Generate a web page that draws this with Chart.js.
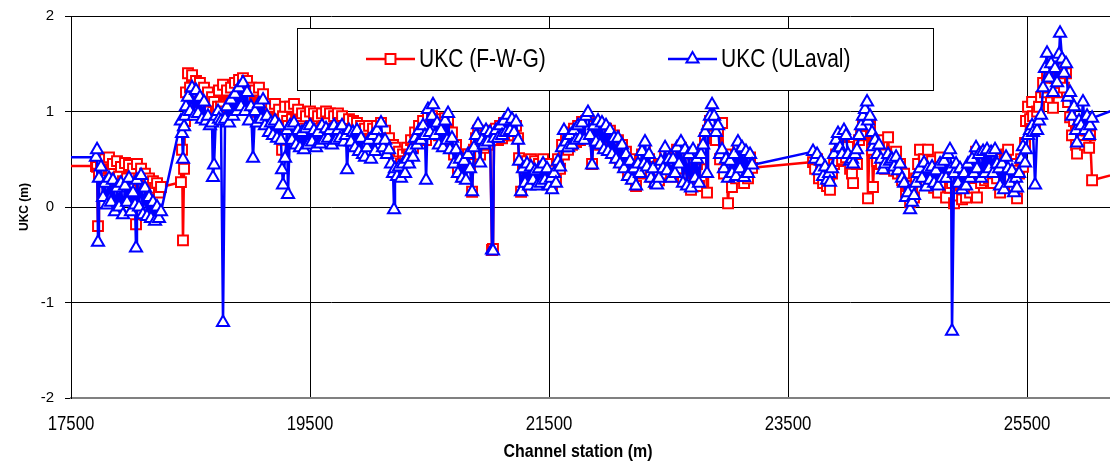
<!DOCTYPE html>
<html>
<head>
<meta charset="utf-8">
<title>UKC along the channel</title>
<script src="https://cdn.jsdelivr.net/npm/chart.js@4.4.1/dist/chart.umd.min.js"></script>
<style>
    html, body { margin: 0; padding: 0; background: #fff; }
    #ukc-chart { display: block; }
</style>
</head>
<body>
<canvas id="ukc-chart" width="1110" height="464"></canvas>
<script>
'use strict';

// Channel stations (m), one row per surveyed reach
var stations = [
    17200, 17709,
    17718, 17726, 17734, 17751, 17768, 17785, 17801, 17818, 17835, 17851, 17868, 17885, 17902, 17918, 17935, 17952, 17969, 17985, 18002, 18019, 18036, 18044, 18052, 18069, 18086, 18102, 18119, 18136, 18153, 18169, 18186, 18203, 18220, 18236, 18253,
    18420, 18429, 18437, 18446, 18454, 18462, 18479, 18496, 18513, 18529, 18546, 18563, 18579, 18596, 18613, 18630, 18646, 18663, 18680,
    18688, 18697, 18713, 18730, 18738, 18755, 18772, 18789, 18805, 18822, 18839, 18856, 18872, 18889, 18906, 18923, 18939, 18956, 18973, 18990,
    19006, 19023, 19040, 19056, 19073, 19090, 19107, 19123, 19140, 19157, 19174, 19190, 19207, 19224, 19241, 19257, 19266, 19274, 19291, 19308, 19316, 19333, 19349, 19366,
    19383, 19400, 19416, 19433, 19450, 19466, 19483, 19500, 19517, 19533, 19550, 19567, 19584, 19600, 19617, 19634, 19651, 19667, 19684, 19701, 19718, 19734, 19751, 19768, 19784, 19801,
    19810, 19826, 19843, 19860, 19877, 19893, 19910, 19927, 19943, 19960, 19977, 19994, 20010, 20027, 20044, 20061, 20077, 20094, 20111, 20128, 20144, 20161, 20178, 20195, 20203,
    20211, 20228, 20245, 20261, 20278, 20295, 20312, 20328, 20345, 20362, 20379, 20395, 20412,
    20429, 20446, 20462, 20471, 20487, 20504, 20521, 20529, 20546, 20563, 20579, 20596, 20613, 20630, 20646, 20655, 20671, 20688,
    20705, 20722, 20738, 20755, 20772, 20789, 20805, 20822, 20839, 20856, 20872, 20889, 20906, 20923, 20939, 20956, 20973, 20989, 21006, 21023, 21031,
    21040, 21056, 21073, 21090, 21107, 21123, 21140, 21157, 21174, 21190, 21207, 21224, 21241, 21249,
    21266, 21282, 21299, 21316, 21333, 21349, 21366, 21383, 21400, 21416, 21433, 21450, 21466, 21483, 21500,
    21517, 21525, 21542, 21558, 21575, 21592, 21609, 21625, 21642, 21659, 21676, 21692, 21709, 21726, 21743, 21759, 21776, 21793, 21810, 21826, 21843,
    21860, 21876, 21893, 21910, 21927, 21943, 21960, 21977, 21994, 22010, 22027, 22044, 22061, 22077, 22094, 22111, 22128, 22144, 22161, 22178, 22194, 22211, 22228, 22245, 22261, 22278, 22295, 22303,
    22320, 22337, 22353, 22370, 22387, 22404, 22420, 22437, 22454, 22471, 22487, 22504, 22521, 22538, 22554, 22571, 22588, 22604, 22621,
    22638, 22655, 22671, 22688, 22705, 22722, 22738, 22755, 22772, 22789, 22805, 22822, 22830,
    22847, 22864, 22881, 22897, 22914, 22931, 22948, 22964, 22981, 22998, 23015, 23031, 23048, 23065, 23081, 23098, 23115, 23132, 23148, 23165, 23182, 23199,
    23709, 23726, 23743, 23759, 23776, 23793, 23810, 23826, 23843, 23851,
    23868, 23885, 23902, 23918, 23935, 23952, 23968, 23985, 24002, 24019, 24035, 24044,
    24061, 24077, 24094, 24111, 24127, 24144, 24161, 24169, 24186, 24203, 24211,
    24228, 24245, 24261, 24278, 24295, 24312, 24337, 24353, 24370, 24387, 24404, 24420, 24437, 24454, 24471, 24487, 24504, 24521, 24538, 24554, 24571, 24588, 24604, 24621, 24638, 24655, 24671, 24688, 24705, 24722, 24738, 24755,
    24772, 24789, 24805, 24822, 24839, 24855, 24864, 24872, 24889, 24906, 24922, 24939, 24956, 24973, 24989, 25006, 25023, 25040, 25056, 25073,
    25081, 25098, 25115, 25132, 25148, 25165, 25182, 25199, 25215, 25232, 25249, 25266, 25274, 25291, 25307, 25324, 25341, 25358, 25374, 25391, 25408, 25416,
    25433, 25450, 25466, 25483, 25491, 25508, 25525, 25542, 25550, 25567, 25584, 25600, 25617,
    25634, 25650, 25667, 25684, 25701, 25717, 25734, 25751, 25768, 25776, 25793, 25809, 25826, 25843, 25860, 25876, 25893, 25910, 25918,
    25935, 25952, 25968, 25985, 26002, 26019, 26027, 26044, 26400
];

// Under-keel clearance (m), F-W-G method
var ukcFwg = [
    0.43, 0.43,
    0.42, -0.20, 0.35, 0.45, 0.30, 0.50, 0.28, 0.52, 0.35, 0.45, 0.30, 0.48, 0.32, 0.42, 0.27, 0.46, 0.30, 0.44, 0.25, 0.40, 0.30, -0.18, 0.45, 0.28, 0.40, 0.25, 0.35, 0.22, 0.30, 0.18, 0.27, 0.20, 0.25, 0.15, 0.21,
    0.26, 0.60, -0.35, 0.40, 0.90, 1.20, 1.40, 1.25, 1.38, 1.15, 1.32, 1.10, 1.30, 1.12, 1.25, 1.05, 1.20, 1.00, 1.15,
    0.90, 1.10, 1.00, 1.05, 1.22, 1.05, 1.28, 1.00, 1.22, 1.02, 1.25, 1.05, 1.30, 1.10, 1.33, 1.12, 1.35, 1.15, 1.32, 1.05,
    1.25, 1.00, 1.22, 1.00, 1.25, 1.02, 1.18, 1.00, 1.08, 0.92, 1.05, 0.90, 1.08, 0.92, 1.02, 0.88, 0.60, 0.95, 1.05, 0.90, 0.85, 1.05, 0.92, 1.08,
    0.90, 1.02, 0.85, 0.98, 0.82, 0.95, 0.80, 1.00, 0.85, 0.98, 0.82, 0.95, 0.80, 0.98, 0.85, 1.00, 0.88, 0.98, 0.82, 0.95, 0.85, 0.98, 0.88, 0.95, 0.85, 0.80,
    0.75, 0.92, 0.80, 0.90, 0.75, 0.88, 0.72, 0.85, 0.70, 0.82, 0.68, 0.85, 0.70, 0.82, 0.72, 0.85, 0.75, 0.88, 0.72, 0.80, 0.65, 0.72, 0.58, 0.65, 0.55,
    0.62, 0.50, 0.58, 0.45, 0.55, 0.48, 0.62, 0.55, 0.70, 0.62, 0.78, 0.70, 0.85,
    0.75, 0.90, 0.80, 0.70, 0.95, 0.82, 0.95, 0.88, 0.80, 0.92, 0.75, 0.88, 0.72, 0.93, 0.78, 0.90, 0.70, 0.78,
    0.55, 0.65, 0.40, 0.55, 0.32, 0.50, 0.35, 0.55, 0.45, 0.16, 0.60, 0.72, 0.80, 0.55, 0.75, 0.62, 0.78, 0.65, 0.80, -0.45, -0.44,
    0.75, 0.82, 0.70, 0.85, 0.72, 0.88, 0.75, 0.90, 0.78, 0.88, 0.75, 0.85, 0.72, 0.51,
    0.16, 0.45, 0.30, 0.48, 0.28, 0.50, 0.32, 0.48, 0.30, 0.45, 0.28, 0.50, 0.30, 0.45, 0.25,
    0.35, 0.20, 0.38, 0.28, 0.50, 0.40, 0.65, 0.55, 0.72, 0.60, 0.78, 0.65, 0.82, 0.68, 0.85, 0.70, 0.89, 0.72, 0.90, 0.78, 0.80,
    0.45, 0.85, 0.70, 0.88, 0.65, 0.85, 0.62, 0.82, 0.60, 0.80, 0.58, 0.75, 0.52, 0.70, 0.48, 0.65, 0.42, 0.58, 0.35, 0.50, 0.30, 0.42, 0.22, 0.40, 0.35, 0.55, 0.42, 0.60,
    0.40, 0.50, 0.32, 0.42, 0.25, 0.35, 0.28, 0.45, 0.35, 0.55, 0.40, 0.50, 0.32, 0.48, 0.35, 0.60, 0.40, 0.62, 0.30,
    0.55, 0.25, 0.50, 0.18, 0.55, 0.28, 0.45, 0.22, 0.50, 0.60, 0.72, 0.15, 0.80,
    0.90, 0.85, 0.88, 0.70, 0.80, 0.50, 0.88, 0.35, 0.55, 0.04, 0.45, 0.21, 0.50, 0.30, 0.60, 0.35, 0.55, 0.25, 0.50, 0.30, 0.52, 0.41,
    0.47, 0.40, 0.50, 0.30, 0.42, 0.25, 0.38, 0.22, 0.30, 0.18,
    0.35, 0.45, 0.55, 0.48, 0.60, 0.50, 0.65, 0.52, 0.63, 0.40, 0.35, 0.25,
    0.50, 0.45, 0.70, 0.75, 0.88, 0.85, 0.91, 0.09, 0.85, 0.60, 0.21,
    0.68, 0.48, 0.70, 0.45, 0.55, 0.40, 0.73, 0.42, 0.55, 0.38, 0.58, 0.35, 0.45, 0.28, 0.35, 0.15, 0.22, 0.05, 0.18, 0.10, 0.30, 0.45, 0.60, 0.35, 0.50, 0.25, 0.60, 0.30, 0.48, 0.20, 0.40, 0.15,
    0.52, 0.25, 0.40, 0.10, 0.35, 0.20, 0.30, 0.25, 0.04, 0.30, 0.12, 0.35, 0.08, 0.30, 0.10, 0.35, 0.15, 0.40, 0.20, 0.58,
    0.10, 0.45, 0.25, 0.50, 0.28, 0.55, 0.30, 0.52, 0.25, 0.50, 0.30, 0.42, 0.15, 0.40, 0.25, 0.55, 0.60, 0.30, 0.45, 0.20, 0.38, 0.09,
    0.35, 0.50, 0.42, 0.67, 0.90, 1.05, 0.92, 1.10, 0.95, 0.85, 1.00, 1.05, 1.15,
    1.30, 1.20, 1.38, 1.25, 1.40, 1.04, 1.35, 1.20, 1.43, 1.30, 1.45, 1.25, 1.40, 1.10, 0.94, 0.75, 0.90, 0.65, 0.56,
    0.85, 0.70, 0.90, 0.65, 0.80, 0.62, 0.75, 0.28, 0.40
];

// Under-keel clearance (m), ULaval method
var ukcUlaval = [
    0.52, 0.52,
    0.60, -0.37, 0.30, 0.42, 0.10, 0.25, 0.02, 0.30, 0.05, 0.28, -0.05, 0.20, 0.00, 0.25, -0.08, 0.22, 0.05, 0.30, -0.05, 0.15, 0.02, -0.43, 0.28, 0.00, 0.33, -0.08, 0.20, -0.10, 0.10, -0.12, 0.05, -0.15, 0.00, -0.12, -0.05,
    0.90, 0.77, 0.50, 0.84, 0.95, 1.05, 1.15, 1.00, 1.25, 0.95, 1.22, 0.98, 1.15, 0.92, 1.10, 0.90, 0.95, 0.85, 0.88,
    0.31, 0.44, 0.95, 1.00, 0.92, 0.90, -1.21, 0.92, 1.05, 0.88, 1.12, 0.95, 1.18, 1.00, 1.25, 1.05, 1.30, 1.00, 1.20, 0.90,
    1.05, 0.51, 1.00, 0.88, 1.08, 0.92, 1.12, 0.85, 0.95, 0.78, 0.88, 0.75, 0.90, 0.72, 0.85, 0.70, 0.39, 0.23, 0.51, 0.80, 0.13, 0.85, 0.70, 0.88,
    0.65, 0.80, 0.62, 0.78, 0.60, 0.82, 0.65, 0.85, 0.68, 0.80, 0.62, 0.78, 0.66, 0.85, 0.70, 0.82, 0.72, 0.80, 0.65, 0.85, 0.70, 0.80, 0.72, 0.85, 0.68, 0.75,
    0.39, 0.80, 0.68, 0.78, 0.62, 0.80, 0.58, 0.72, 0.55, 0.52, 0.62, 0.70, 0.50, 0.75, 0.58, 0.80, 0.70, 0.88, 0.62, 0.70, 0.55, 0.60, 0.45, 0.35, -0.03,
    0.40, 0.32, 0.42, 0.30, 0.45, 0.35, 0.50, 0.45, 0.60, 0.52, 0.72, 0.65, 0.80,
    0.70, 0.85, 0.75, 0.28, 1.02, 0.78, 0.95, 1.07, 0.75, 0.88, 0.65, 0.80, 0.62, 0.90, 0.70, 0.98, 0.60, 0.72,
    0.45, 0.60, 0.35, 0.50, 0.30, 0.48, 0.28, 0.55, 0.40, 0.16, 0.62, 0.75, 0.86, 0.46, 0.70, 0.65, 0.80, 0.68, 0.78, -0.45, -0.46,
    0.72, 0.80, 0.72, 0.85, 0.75, 0.90, 0.78, 0.96, 0.80, 0.92, 0.78, 0.89, 0.70, 0.48,
    0.16, 0.40, 0.25, 0.45, 0.22, 0.42, 0.28, 0.38, 0.22, 0.40, 0.25, 0.45, 0.28, 0.40, 0.22,
    0.30, 0.18, 0.35, 0.25, 0.48, 0.42, 0.62, 0.80, 0.68, 0.62, 0.75, 0.65, 0.80, 0.70, 0.85, 0.72, 0.88, 0.70, 0.95, 0.99, 0.75,
    0.44, 0.85, 0.68, 0.90, 0.65, 0.88, 0.60, 0.85, 0.58, 0.80, 0.55, 0.72, 0.50, 0.72, 0.45, 0.65, 0.40, 0.55, 0.32, 0.48, 0.28, 0.40, 0.22, 0.45, 0.35, 0.58, 0.45, 0.68,
    0.42, 0.55, 0.30, 0.40, 0.25, 0.23, 0.30, 0.48, 0.40, 0.62, 0.38, 0.50, 0.30, 0.50, 0.35, 0.62, 0.45, 0.68, 0.25,
    0.60, 0.22, 0.55, 0.20, 0.60, 0.30, 0.50, 0.25, 0.55, 0.65, 0.78, 0.35, 0.85,
    0.95, 1.07, 0.95, 0.78, 0.85, 0.55, 0.60, 0.40, 0.50, 0.30, 0.48, 0.35, 0.55, 0.32, 0.68, 0.40, 0.62, 0.31, 0.58, 0.35, 0.55, 0.44,
    0.58, 0.50, 0.55, 0.38, 0.48, 0.32, 0.42, 0.28, 0.35, 0.26,
    0.40, 0.55, 0.70, 0.77, 0.62, 0.55, 0.80, 0.75, 0.55, 0.48, 0.50, 0.45,
    0.55, 0.60, 0.75, 0.85, 0.95, 1.02, 1.10, 0.90, 0.95, 0.78, 0.63,
    0.70, 0.55, 0.65, 0.50, 0.39, 0.45, 0.55, 0.48, 0.50, 0.42, 0.52, 0.38, 0.45, 0.30, 0.25, 0.10, 0.15, -0.03, 0.05, 0.12, 0.25, 0.35, 0.40, 0.30, 0.46, 0.21, 0.40, 0.28, 0.42, 0.25, 0.38, 0.22,
    0.45, 0.30, 0.48, 0.30, 0.55, 0.60, 0.40, -1.30, 0.35, 0.45, 0.25, 0.40, 0.18, 0.35, 0.22, 0.45, 0.30, 0.50, 0.35, 0.62,
    0.40, 0.55, 0.30, 0.58, 0.35, 0.60, 0.40, 0.57, 0.35, 0.60, 0.45, 0.40, 0.22, 0.45, 0.18, 0.52, 0.40, 0.25, 0.38, 0.15, 0.30, 0.20,
    0.35, 0.50, 0.63, 0.46, 0.60, 0.75, 0.80, 0.85, 0.78, 0.23, 0.80, 0.90, 0.96,
    1.25, 1.45, 1.61, 1.35, 1.50, 1.20, 1.45, 1.30, 1.60, 1.82, 1.55, 1.40, 1.50, 1.15, 1.20, 0.95, 1.05, 0.80, 0.67,
    0.90, 0.85, 1.10, 0.80, 0.95, 0.75, 0.85, 0.93, 1.10
];

var seriesNames = ['UKC (F-W-G)', 'UKC (ULaval)'];
var xTicks = [17500, 19500, 21500, 23500, 25500];
var yTicks = [-2, -1, 0, 1, 2];

var SANS = '"Liberation Sans", Arial, sans-serif';
// the axis and legend lettering is set slightly condensed
var SQUEEZE = 0.84;

var toPoints = function (values) {
    return values.map(function (v, i) {
        return { x: stations[i], y: v };
    });
};

var squeezedText = function (ctx, text, x, y, align) {
    ctx.save();
    ctx.translate(x, y);
    ctx.scale(SQUEEZE, 1);
    ctx.textAlign = align;
    ctx.textBaseline = 'middle';
    ctx.fillText(text, 0, 0);
    ctx.restore();
};

// Outline marker like the ones Chart.js draws for 'rect' and 'triangle'
var drawMarker = function (ctx, style, x, y, r) {
    ctx.beginPath();
    if (style === 'rect') {
        var h = r * Math.SQRT1_2;
        ctx.rect(x - h, y - h, 2 * h, 2 * h);
    } else {
        var a = 0;
        ctx.moveTo(x + Math.sin(a) * r, y - Math.cos(a) * r);
        a += 2 * Math.PI / 3;
        ctx.lineTo(x + Math.sin(a) * r, y - Math.cos(a) * r);
        a += 2 * Math.PI / 3;
        ctx.lineTo(x + Math.sin(a) * r, y - Math.cos(a) * r);
        ctx.closePath();
    }
    ctx.fill();
    ctx.stroke();
};

// Boxed legend over the top of the plot, x tick labels and x axis title
var chartExtras = {
    id: 'chartExtras',
    afterDraw: function (chart) {
        var ctx = chart.ctx;
        var xScale = chart.scales.x;
        ctx.save();

        ctx.fillStyle = '#000000';
        ctx.font = '20px ' + SANS;
        xTicks.forEach(function (v) {
            squeezedText(ctx, String(v), xScale.getPixelForValue(v), 424, 'center');
        });

        ctx.font = 'bold 19px ' + SANS;
        squeezedText(ctx, 'Channel station (m)', 578, 452, 'center');

        ctx.fillStyle = '#ffffff';
        ctx.fillRect(297, 28, 636, 62);
        ctx.strokeStyle = '#000000';
        ctx.lineWidth = 1;
        ctx.strokeRect(297.5, 28.5, 636, 62);

        var items = [
            { x: 366, ds: chart.data.datasets[0] },
            { x: 668, ds: chart.data.datasets[1] }
        ];
        var cy = 59;
        items.forEach(function (item) {
            var ds = item.ds;
            ctx.strokeStyle = ds.borderColor;
            ctx.lineWidth = ds.borderWidth;
            ctx.beginPath();
            ctx.moveTo(item.x, cy);
            ctx.lineTo(item.x + 49, cy);
            ctx.stroke();

            ctx.fillStyle = ds.pointBackgroundColor;
            ctx.lineWidth = ds.pointBorderWidth;
            drawMarker(ctx, ds.pointStyle, item.x + 24.5, cy, ds.pointRadius);

            ctx.fillStyle = '#000000';
            ctx.font = '25px ' + SANS;
            squeezedText(ctx, ds.label, item.x + 53, cy + 1, 'left');
        });

        ctx.restore();
    }
};

var ctx = document.getElementById('ukc-chart').getContext('2d');

var ukcChart = new Chart(ctx, {
    type: 'line',
    data: {
        datasets: [{
            label: seriesNames[0],
            data: toPoints(ukcFwg),
            borderColor: '#ff0000',
            backgroundColor: '#ff0000',
            borderWidth: 2.5,
            borderJoinStyle: 'round',
            borderCapStyle: 'round',
            pointStyle: 'rect',
            pointRadius: 7,
            pointBorderWidth: 2,
            pointBorderColor: '#ff0000',
            pointBackgroundColor: '#ffffff',
            tension: 0,
            order: 2
        }, {
            label: seriesNames[1],
            data: toPoints(ukcUlaval),
            borderColor: '#0000ff',
            backgroundColor: '#0000ff',
            borderWidth: 2.5,
            borderJoinStyle: 'round',
            borderCapStyle: 'round',
            pointStyle: 'triangle',
            pointRadius: 7,
            pointBorderWidth: 2,
            pointBorderColor: '#0000ff',
            pointBackgroundColor: '#ffffff',
            tension: 0,
            order: 1
        }]
    },
    options: {
        responsive: false,
        maintainAspectRatio: false,
        animation: false,
        devicePixelRatio: 1,
        events: [],
        layout: {
            autoPadding: false,
            padding: { top: 16, right: 0, bottom: 0, left: 0 }
        },
        plugins: {
            legend: { display: false },
            tooltip: { enabled: false }
        },
        scales: {
            x: {
                type: 'linear',
                min: 17500,
                max: 26194,
                afterBuildTicks: function (scale) {
                    scale.ticks = xTicks.map(function (v) { return { value: v }; });
                },
                afterFit: function (scale) {
                    scale.height = 66;
                    scale.paddingLeft = 0;
                    scale.paddingRight = 0;
                },
                grid: { color: '#000000', lineWidth: 1, drawTicks: false },
                border: { color: '#808080', width: 2 },
                // labels are drawn condensed by chartExtras
                ticks: { display: false }
            },
            y: {
                type: 'linear',
                min: yTicks[0],
                max: yTicks[yTicks.length - 1],
                afterBuildTicks: function (scale) {
                    scale.ticks = yTicks.map(function (v) { return { value: v }; });
                },
                afterFit: function (scale) {
                    scale.width = 71;
                    scale.paddingTop = 0;
                    scale.paddingBottom = 0;
                },
                grid: { color: '#000000', lineWidth: 1, tickLength: 6, tickColor: '#000000' },
                border: { color: '#000000', width: 1 },
                ticks: {
                    color: '#000000',
                    font: { family: SANS, size: 15 },
                    padding: 11
                },
                title: {
                    display: true,
                    text: 'UKC (m)',
                    color: '#000000',
                    font: { family: SANS, size: 12, weight: 'bold' },
                    padding: { top: 17, bottom: 0 }
                }
            }
        }
    },
    plugins: [chartExtras]
});
</script>
</body>
</html>
